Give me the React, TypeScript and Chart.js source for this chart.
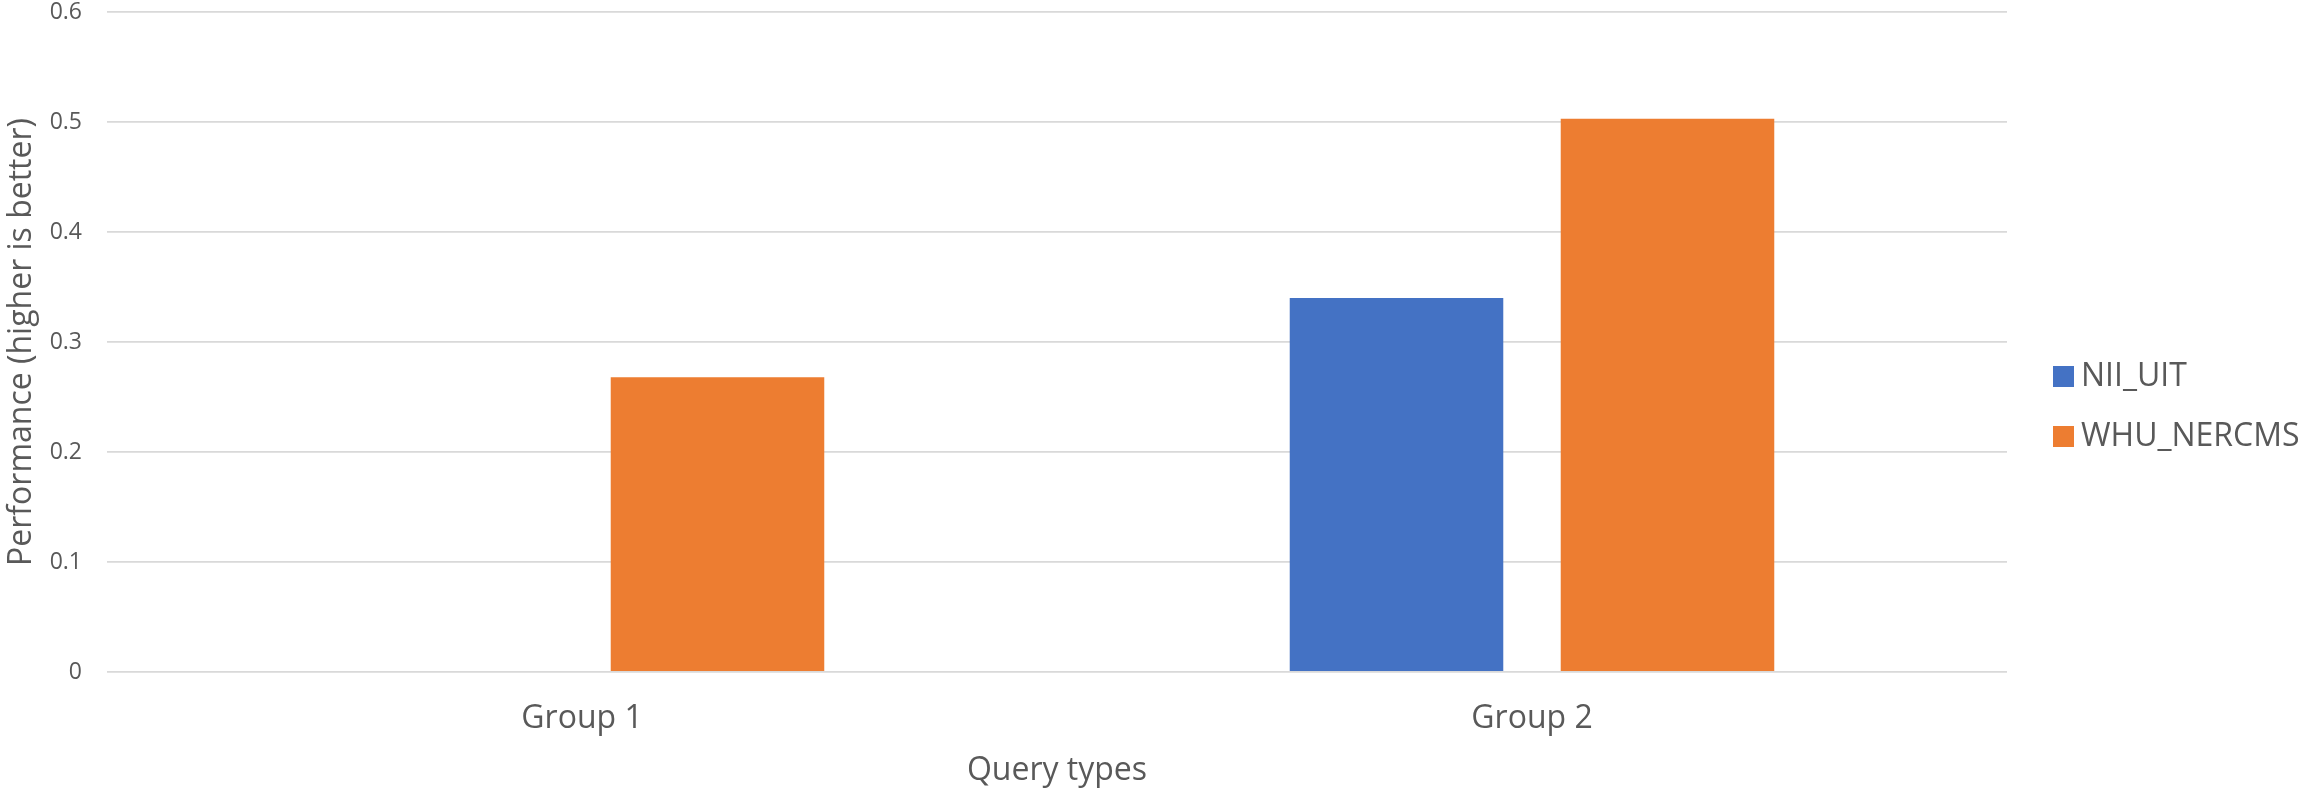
import { useEffect, useRef } from "react";
import { Chart, registerables } from "chart.js";

Chart.register(...registerables);

// Chart data
const categories = ["Group 1", "Group 2"];
const seriesNames = ["NII_UIT", "WHU_NERCMS"];
const niiUitValues = [0, 0.34];
const whuNercmsValues = [0.268, 0.503];
const yMin = 0;
const yMax = 0.6;
const yStep = 0.1;
const xTitle = "Query types";
const yTitle = "Performance (higher is better)";

const WIDTH = 2313;
const HEIGHT = 792;
const TEXT = "#595959";
const FONT = "'Open Sans', 'Noto Sans', sans-serif";

// Places the legend block to the right of the plot area.
const legendPlacement = {
  id: "legendPlacement",
  afterLayout(chart: any) {
    const lg = chart.legend;
    if (!lg) return;
    const pad = lg.options.labels.padding;
    const colH = lg.columnSizes && lg.columnSizes[0] ? lg.columnSizes[0].height : 0;
    const left = chart.chartArea.right + 27;
    const firstRowY = 360.5;
    lg.left = left;
    lg.right = chart.width;
    lg.width = lg.right - lg.left;
    lg.top = firstRowY - pad;
    lg.bottom = firstRowY + colH;
    lg.height = lg.bottom - lg.top;
  },
};

export default function App() {
  const canvasRef = useRef<HTMLCanvasElement>(null);

  useEffect(() => {
    const canvas = canvasRef.current;
    if (!canvas) return;
    const chart = new Chart(canvas, {
      type: "bar",
      data: {
        labels: categories,
        datasets: [
          {
            label: seriesNames[0],
            data: niiUitValues,
            backgroundColor: "#4472C4",
            borderWidth: 0,
          },
          {
            label: seriesNames[1],
            data: whuNercmsValues,
            backgroundColor: "#ED7D31",
            borderWidth: 0,
          },
        ],
      },
      options: {
        animation: false,
        responsive: false,
        devicePixelRatio: 1,
        categoryPercentage: 0.5705,
        barPercentage: 0.788,
        layout: { padding: { top: 12, right: 306, bottom: 0, left: 0 } },
        plugins: {
          tooltip: { enabled: false },
          legend: {
            position: "chartArea" as any,
            align: "center",
            labels: {
              usePointStyle: true,
              pointStyle: "rect",
              boxWidth: 3,
              boxHeight: 21,
              padding: 28,
              color: TEXT,
              font: { family: FONT, size: 32 },
            },
          },
        },
        scales: {
          x: {
            afterFit: (s: any) => {
              s.height = 120;
              s.paddingLeft = 0;
              s.paddingRight = 0;
            },
            grid: { display: false, drawTicks: false },
            border: { display: false },
            ticks: {
              padding: 28,
              color: TEXT,
              font: { family: FONT, size: 32, lineHeight: 1.2 },
            },
            title: {
              display: true,
              text: xTitle,
              color: TEXT,
              font: { family: FONT, size: 32, lineHeight: 1.2 },
              padding: { top: 0, bottom: 2 },
            },
          },
          y: {
            min: yMin,
            max: yMax,
            afterFit: (s: any) => {
              s.width = 107;
              s.paddingTop = 0;
              s.paddingBottom = 0;
            },
            grid: { color: "#d9d9d9", lineWidth: 1.8, drawTicks: false },
            border: { display: false },
            ticks: {
              stepSize: yStep,
              padding: 25,
              color: TEXT,
              font: { family: FONT, size: 23, lineHeight: 1 },
            },
            title: {
              display: true,
              text: yTitle,
              color: TEXT,
              font: { family: FONT, size: 32, lineHeight: 1.2 },
              padding: { top: 3, bottom: 0 },
            },
          },
        },
      },
      plugins: [legendPlacement],
    });
    return () => chart.destroy();
  }, []);

  return (
    <div
      style={{
        position: "absolute",
        left: 0,
        top: 0,
        width: WIDTH,
        height: HEIGHT,
        background: "#ffffff",
      }}
    >
      <canvas
        ref={canvasRef}
        width={WIDTH}
        height={HEIGHT}
        style={{ display: "block", width: WIDTH, height: HEIGHT }}
      />
    </div>
  );
}
